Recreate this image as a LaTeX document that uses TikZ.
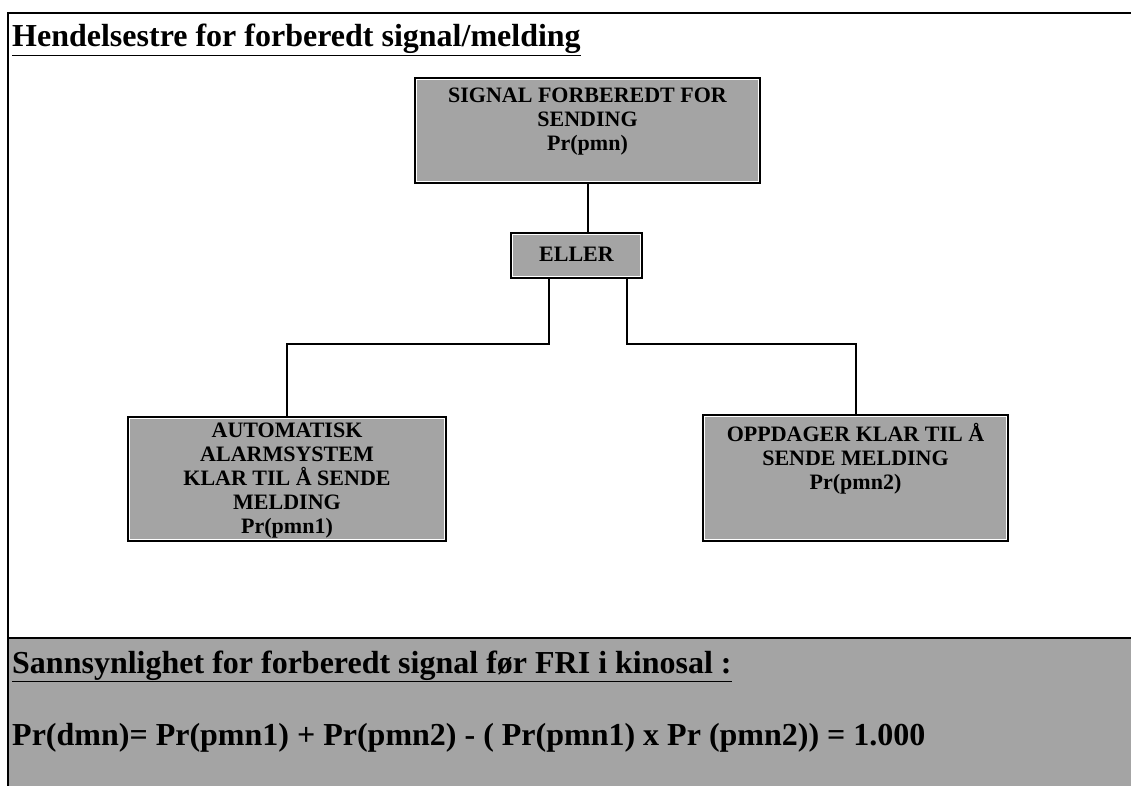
\documentclass[tikz,border=0pt]{standalone}
\usepackage{fontspec}
\setmainfont{Liberation Serif}
\definecolor{panelgray}{HTML}{A4A4A4}
\tikzset{
  evbox/.style={draw=black, line width=2pt, fill=panelgray, minimum width=#1, inner sep=0pt},
  evinner/.style={draw=white, line width=1pt},
  evtext/.style={align=center, font=\fontsize{22}{24}\selectfont\bfseries, inner sep=0pt},
  wire/.style={draw=black, line width=2pt},
  frameline/.style={draw=black, line width=2pt}
}
\begin{document}
\begin{tikzpicture}[x=1pt, y=-1pt]
  \useasboundingbox (0,0) rectangle (1131,786);
  \fill[white] (0,0) rectangle (1131,786);

  % outer frame and summary band
  \fill[panelgray] (8,638) rectangle (1131,786);
  \draw[frameline] (8,786) -- (8,13) -- (1131,13);
  \draw[frameline] (8,638) -- (1131,638);

  % heading
  \node[anchor=base west, inner sep=0pt, font=\fontsize{32}{36}\selectfont\bfseries]
    (title) at (12,47) {\underline{Hendelsestre for forberedt signal/melding}};

  % event boxes
  \node[evbox=345pt, minimum height=105pt] (top) at (587.5,130.5) {};
  \node[evbox=131pt, minimum height=45pt] (eller) at (576.5,255.5) {};
  \node[evbox=318pt, minimum height=124pt] (left) at (287,479) {};
  \node[evbox=305pt, minimum height=126pt] (right) at (855.5,478) {};

  % thin white rule just inside each box border
  \foreach \b in {top,eller,left,right}
    \draw[evinner] ([shift={(2.5pt,-2.5pt)}]\b.north west) rectangle
                   ([shift={(-2.5pt,2.5pt)}]\b.south east);

  % box labels
  \node[evtext, anchor=north] (toptxt) at ([yshift=-11pt]top.north)
    {SIGNAL FORBEREDT FOR\\SENDING\\Pr(pmn)};
  \node[evtext] (ellertxt) at ([yshift=1pt]eller.center) {ELLER};
  \node[evtext, anchor=north] (lefttxt) at ([yshift=-7pt]left.north)
    {AUTOMATISK\\ALARMSYSTEM\\KLAR TIL Å SENDE\\MELDING\\Pr(pmn1)};
  \node[evtext, anchor=north] (righttxt) at ([yshift=-9pt]right.north)
    {OPPDAGER KLAR TIL Å\\SENDE MELDING\\Pr(pmn2)};

  % connectors
  \draw[wire] (top.south) -- (top.south |- eller.north);
  \draw[wire] ([xshift=-27.5pt]eller.south) -- ++(0,65) -| (left.north);
  \draw[wire] ([xshift=50.5pt]eller.south) -- ++(0,65) -| (right.north);

  % summary
  \node[anchor=base west, inner sep=0pt, font=\fontsize{32}{36}\selectfont\bfseries]
    (sumhead) at (12,673) {\underline{Sannsynlighet for forberedt signal før FRI i kinosal :}};
  \node[anchor=base west, inner sep=0pt, font=\fontsize{32}{36}\selectfont\bfseries]
    (formula) at (12,745) {Pr(dmn)= Pr(pmn1) + Pr(pmn2) - ( Pr(pmn1) x Pr (pmn2)) = 1.000};
\end{tikzpicture}
\end{document}
